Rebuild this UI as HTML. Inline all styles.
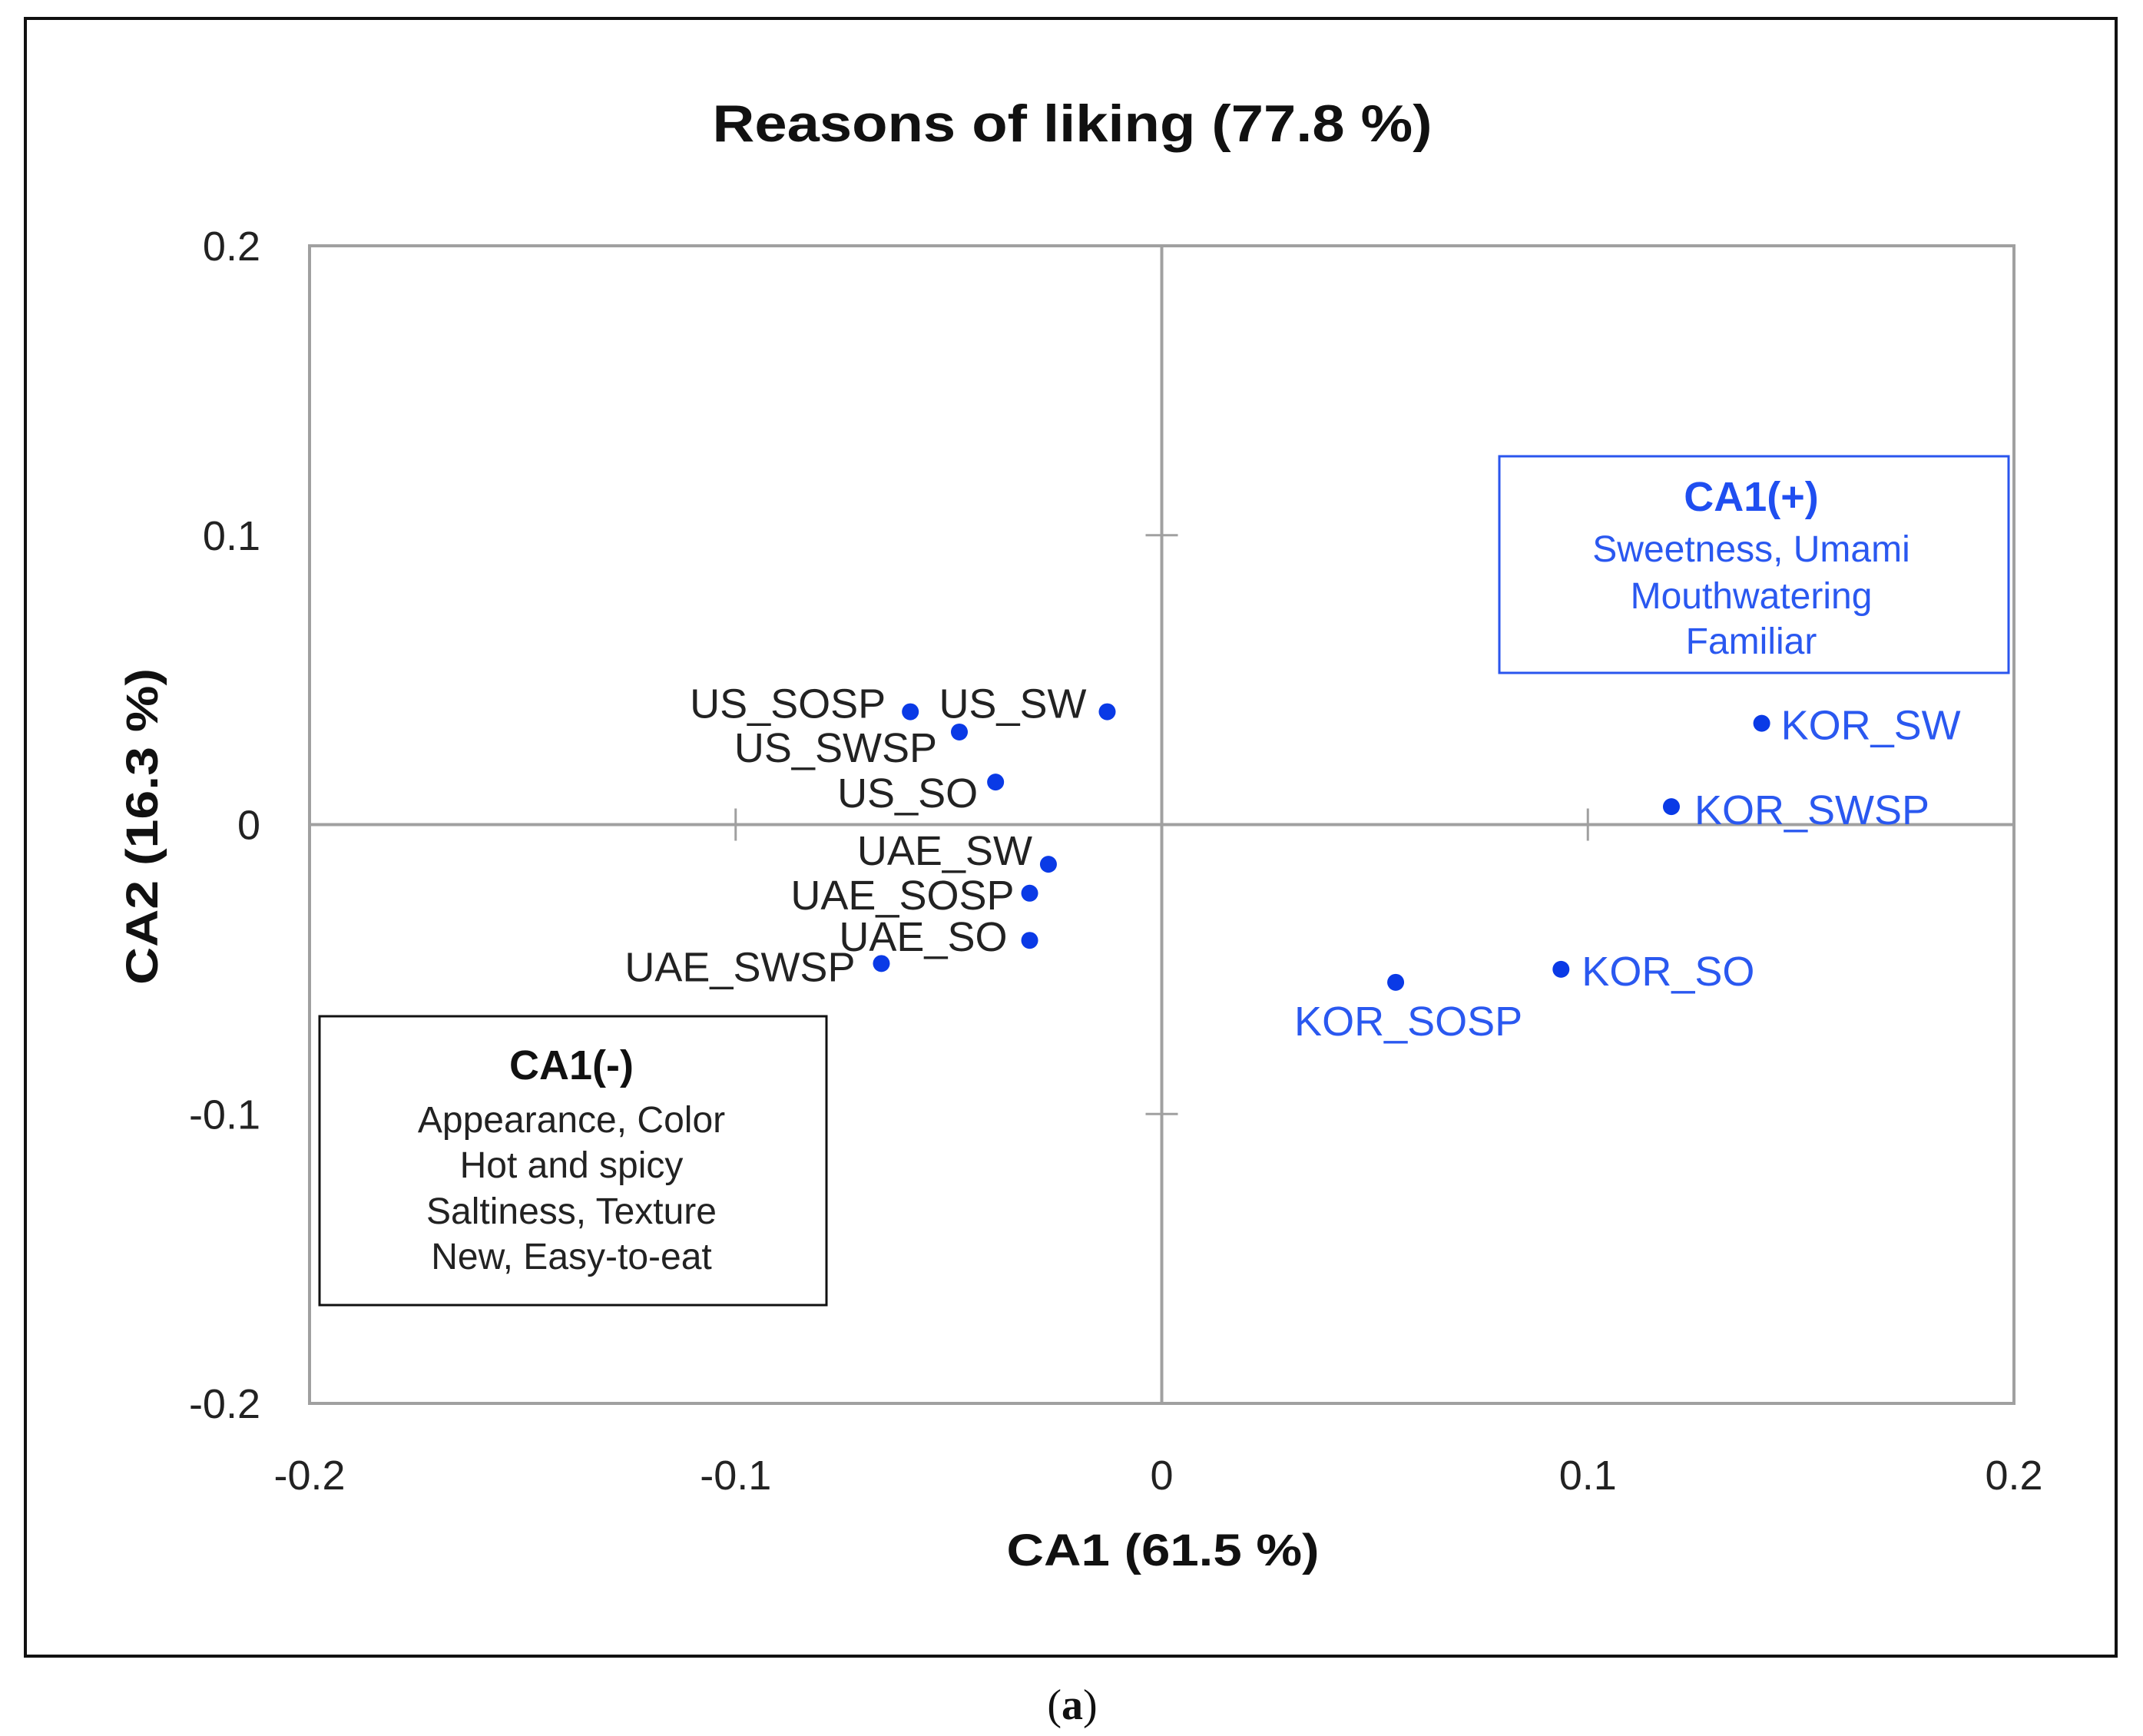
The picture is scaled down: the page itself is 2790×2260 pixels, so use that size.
<!DOCTYPE html>
<html><head><meta charset="utf-8"><style>
html,body{margin:0;padding:0;background:#fff;}
svg{display:block;}
text{font-family:"Liberation Sans",sans-serif;}
</style></head><body>
<svg id="chart" width="2790" height="2260" viewBox="0 0 2790 2260" xmlns="http://www.w3.org/2000/svg">
<rect x="33" y="24" width="2722" height="2132" fill="#fff" stroke="#111" stroke-width="4"/>
<text x="1396" y="184" text-anchor="middle" font-size="68" font-weight="bold" fill="#111" textLength="937" lengthAdjust="spacingAndGlyphs">Reasons of liking (77.8 %)</text>
<rect x="403" y="320" width="2219" height="1507" fill="none" stroke="#a0a0a0" stroke-width="4"/>
<g id="axes"></g>
<g id="marks"></g>
<text x="1514" y="2038" text-anchor="middle" font-size="58" font-weight="bold" fill="#111" textLength="407" lengthAdjust="spacingAndGlyphs">CA1 (61.5 %)</text>
<text transform="translate(205,1076) rotate(-90)" text-anchor="middle" font-size="58" font-weight="bold" fill="#111" textLength="412" lengthAdjust="spacingAndGlyphs">CA2 (16.3 %)</text>
<g>
<rect x="416" y="1323" width="660" height="376" fill="#fff" stroke="#111" stroke-width="3"/>
<text x="744" y="1405" text-anchor="middle" font-size="54" font-weight="bold" fill="#111">CA1(-)</text>
<text x="744" y="1474" text-anchor="middle" font-size="48" fill="#222">Appearance, Color</text>
<text x="744" y="1533" text-anchor="middle" font-size="48" fill="#222">Hot and spicy</text>
<text x="744" y="1593" text-anchor="middle" font-size="48" fill="#222">Saltiness, Texture</text>
<text x="744" y="1652" text-anchor="middle" font-size="48" fill="#222">New, Easy-to-eat</text>
</g>
<g>
<rect x="1952" y="594" width="663" height="282" fill="#fff" stroke="#2a55ee" stroke-width="3"/>
<text x="2280" y="665" text-anchor="middle" font-size="54" font-weight="bold" fill="#1f4ef0">CA1(+)</text>
<text x="2280" y="731" text-anchor="middle" font-size="48" fill="#2a58f0">Sweetness, Umami</text>
<text x="2280" y="792" text-anchor="middle" font-size="48" fill="#2a58f0">Mouthwatering</text>
<text x="2280" y="851" text-anchor="middle" font-size="48" fill="#2a58f0">Familiar</text>
</g>
<text x="1396" y="2238" text-anchor="middle" font-size="56" fill="#111" style="font-family:'Liberation Serif',serif">(<tspan font-weight="bold">a</tspan>)</text>
</svg>
<script>
const labels = ["US_SOSP","US_SW","US_SWSP","US_SO","UAE_SW","UAE_SOSP","UAE_SO","UAE_SWSP","KOR_SW","KOR_SWSP","KOR_SO","KOR_SOSP"];
const ca1 = [-0.059,-0.0128,-0.0475,-0.039,-0.0266,-0.031,-0.031,-0.0658,0.1408,0.1196,0.0937,0.0549];
const ca2 = [0.039,0.039,0.032,0.0147,-0.0137,-0.0237,-0.040,-0.048,0.035,0.0062,-0.050,-0.0545];
const tickValues = [-0.2,-0.1,0,0.1,0.2];
const tickLabels = ["-0.2","-0.1","0","0.1","0.2"];

const NS="http://www.w3.org/2000/svg";
const L=403,R=2622,T=320,B=1827;
const xs=v=>L+(v+0.2)/0.4*(R-L);
const ys=v=>B-(v+0.2)/0.4*(B-T);
function mk(tag,attrs,parent){const e=document.createElementNS(NS,tag);for(const k in attrs)e.setAttribute(k,attrs[k]);parent.appendChild(e);return e;}
const axes=document.getElementById('axes');
const marks=document.getElementById('marks');
let e;
e=mk('line',{x1:L,x2:R,y1:ys(0),y2:ys(0),stroke:'#a0a0a0','stroke-width':4},axes);


e=mk('line',{x1:xs(0),x2:xs(0),y1:T,y2:B,stroke:'#a0a0a0','stroke-width':4},axes);


tickValues.forEach((v,i)=>{
  if(v!==0&&Math.abs(v)<0.2){
    e=mk('line',{x1:xs(v),x2:xs(v),y1:ys(0)-21,y2:ys(0)+21,stroke:'#a0a0a0','stroke-width':3},axes);
    
    
    e=mk('line',{x1:xs(0)-21,x2:xs(0)+21,y1:ys(v),y2:ys(v),stroke:'#a0a0a0','stroke-width':3},axes);
    
    
  }
  e=mk('text',{x:xs(v),y:1939,'text-anchor':'middle','font-size':54,fill:'#222'},axes);
  e.textContent=tickLabels[i];
  
  
  e=mk('text',{x:339,y:ys(v)+19,'text-anchor':'end','font-size':54,fill:'#222'},axes);
  e.textContent=tickLabels[i];
  
  
});
const off={US_SOSP:[-32,-11,'end'],US_SW:[-27,-11,'end'],US_SWSP:[-29,20,'end'],US_SO:[-23,14,'end'],
UAE_SW:[-21,-18,'end'],UAE_SOSP:[-20,2,'end'],UAE_SO:[-29,-5,'end'],UAE_SWSP:[-34,4,'end'],
KOR_SW:[25,2,'start'],KOR_SWSP:[30,4,'start'],KOR_SO:[27,2,'start'],KOR_SOSP:[-132,50,'start']};
labels.forEach((n,i)=>{
  const cx=xs(ca1[i]),cy=ys(ca2[i]);
  e=mk('circle',{cx:cx,cy:cy,r:11,fill:'#0a3ae6'},marks);
  
  
  const o=off[n]||[20,0,'start'];
  const kor=n.startsWith('KOR');
  e=mk('text',{x:cx+o[0],y:cy+o[1]+19,'text-anchor':o[2],'font-size':54,fill:kor?'#2a58f0':'#222'},marks);
  e.textContent=n;
  
  
});
</script>
</body></html>
